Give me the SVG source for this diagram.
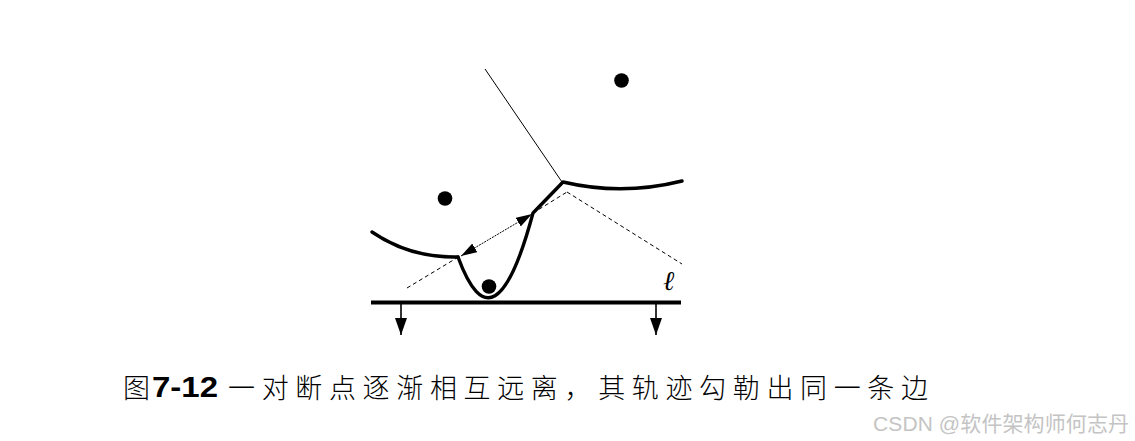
<svg xmlns="http://www.w3.org/2000/svg" width="1135" height="441" viewBox="0 0 1135 441">
<style>
.thick{fill:none;stroke:#000;stroke-width:3.4;stroke-linecap:round;stroke-linejoin:round}
.thin{fill:none;stroke:#000;stroke-width:1}
.dash{fill:none;stroke:#000;stroke-width:1;stroke-dasharray:4 3}
.dot{fill:#000}
.cap{font-family:"Noto Sans CJK SC","Noto Sans CJK JP",sans-serif;font-weight:300;font-size:27px;fill:#000}
.num{font-family:"Liberation Sans",Arial,sans-serif;font-weight:bold;font-size:30px;fill:#000}
.wm{font-family:"Liberation Sans","Noto Sans CJK SC",sans-serif;font-size:21px;fill:#c4c4c4}
</style>
<defs>
<marker id="ah" markerUnits="userSpaceOnUse" viewBox="0 0 16 10" refX="16" refY="5" markerWidth="16" markerHeight="10" orient="auto-start-reverse">
<path d="M0,0 L16,5 L0,10 z" fill="#000"/>
</marker>
<marker id="down" markerUnits="userSpaceOnUse" viewBox="0 0 17 12" refX="17" refY="6" markerWidth="17" markerHeight="12" orient="auto">
<path d="M0,0 L17,6 L0,12 z" fill="#000"/>
</marker>
</defs>
<rect width="1135" height="441" fill="#fff"/>
<g id="sites">
<circle class="dot" cx="621.5" cy="80.5" r="7.3"/>
<circle class="dot" cx="445" cy="198.5" r="7.3"/>
<circle class="dot" cx="489" cy="286.5" r="7.3"/>
</g>
<g id="edges">
<line class="thin" x1="485" y1="69" x2="562" y2="182"/>
<line class="dash" x1="407" y1="288" x2="460" y2="256"/>
<line class="dash" x1="533" y1="213" x2="567" y2="192"/>
<line class="dash" x1="567" y1="192" x2="682" y2="264"/>
</g>
<g id="beachline">
<path class="thick" d="M372,232 Q410,258 458,257"/>
<path class="thick" d="M458,257 Q494.5,356.5 533,213 L563,182 Q622,196 682,181"/>
</g>
<g id="connectors">
<line x1="461" y1="256" x2="532" y2="214" stroke="#000" stroke-width="1" stroke-dasharray="2 1" marker-start="url(#ah)" marker-end="url(#ah)"/>
<line x1="401" y1="303" x2="401" y2="335" stroke="#000" stroke-width="1.6" marker-end="url(#down)"/>
<line x1="656" y1="303" x2="656" y2="335" stroke="#000" stroke-width="1.6" marker-end="url(#down)"/>
</g>
<g id="sweepline">
<line x1="371" y1="302.5" x2="681" y2="302.5" stroke="#000" stroke-width="3.8"/>
<text x="663" y="290" font-family="DejaVu Serif,serif" font-style="italic" font-size="27">ℓ</text>
</g>
<g id="caption">
<text class="cap" x="123" y="398">图</text>
<text class="num" x="152" y="397" textLength="66" lengthAdjust="spacingAndGlyphs">7-12</text>
<text class="cap" x="228" y="398" textLength="700" lengthAdjust="spacing">一对断点逐渐相互远离，其轨迹勾勒出同一条边</text>
</g>
<text class="wm" x="873" y="431" textLength="256" lengthAdjust="spacing">CSDN @软件架构师何志丹</text>
</svg>
